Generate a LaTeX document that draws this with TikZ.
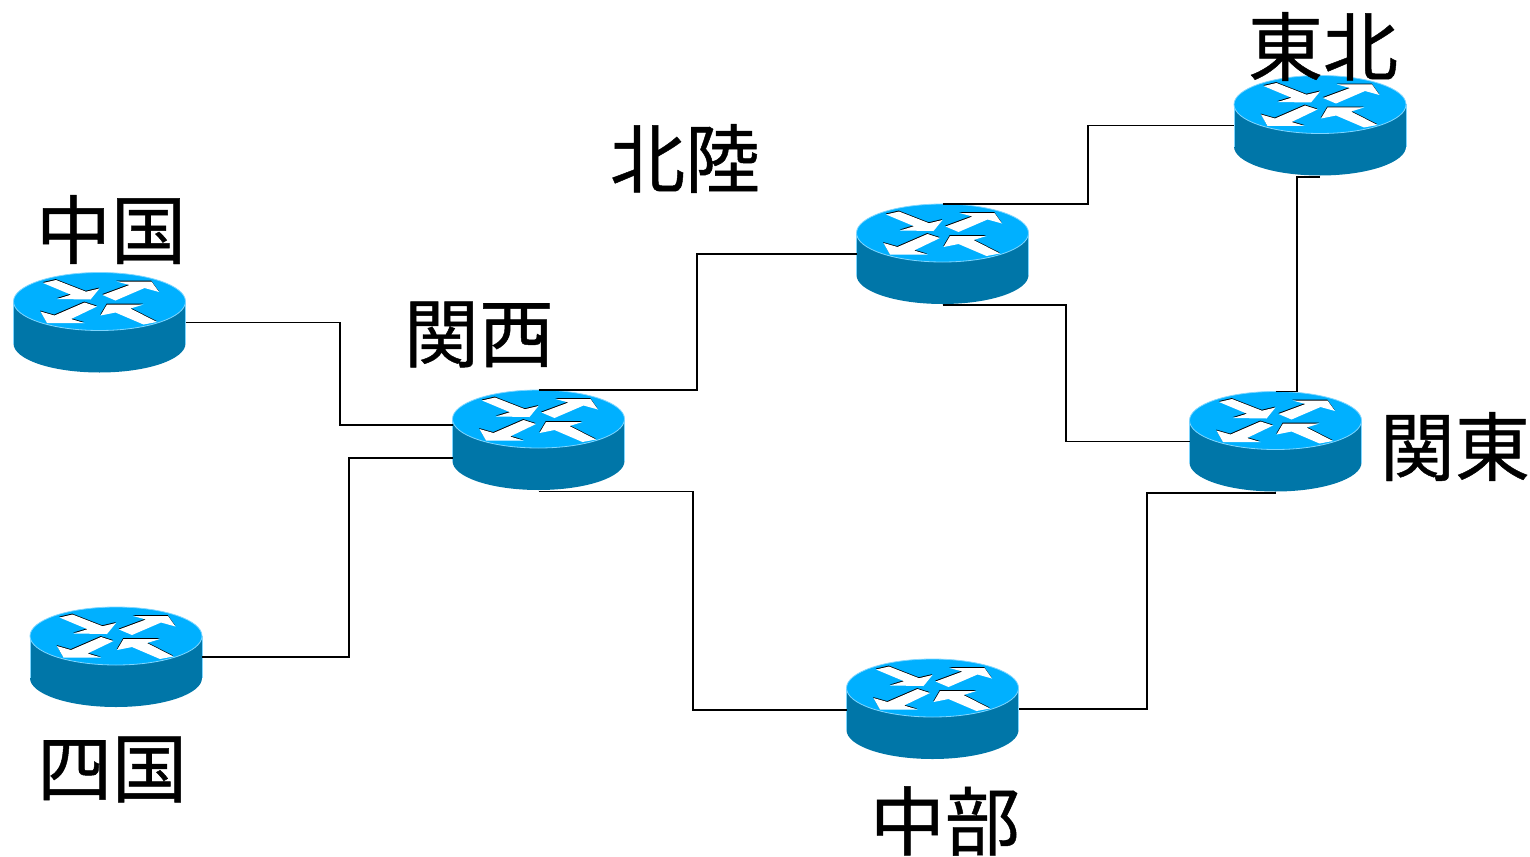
\documentclass[tikz,border=0pt]{standalone}
\usepackage{fontspec}
\newfontfamily\cjk[FakeBold=0.6]{Noto Sans CJK JP}
\definecolor{routertop}{HTML}{00B0FF}
\definecolor{routerside}{HTML}{0076A8}
\definecolor{routeredge}{HTML}{7FD6FF}
\tikzset{
  x=1pt,y=-1pt,
  routerbox/.style={minimum width=172pt,minimum height=100pt,inner sep=0pt,outer sep=0pt},
  link/.style={draw=black,line width=1.5pt},
  place/.style={font=\cjk\fontsize{75}{75}\selectfont,inner sep=0pt,text=black},
  arrowshape/.style={fill=white},
  arrowshade/.style={fill=black},
  router/.pic={
    \fill[routerside] (-86,-21) -- (-86,21) arc[start angle=180,end angle=360,x radius=86,y radius=-29] -- (86,-21) -- cycle;
    \draw[routeredge,line width=0.6pt] (-86,-21) -- (-86,21) (86,-21) -- (86,21);
    \draw[routeredge,line width=0.8pt,fill=routertop] (0,-21) ellipse[x radius=86,y radius=29];
    \begin{scope}[shift={(0,-21)}]
      \foreach \sty/\dx/\dy in {arrowshade/-0.3/-0.9,arrowshape/0/0}{
        \begin{scope}[shift={(\dx,\dy)}]
          \fill[\sty] (-56.5,-18.5) -- (-43.5,-21.5) -- (-13.5,-9.8) -- (0,-13) -- (-9,-2) -- (-42.5,-2.5) -- (-28.5,-6.8) -- cycle;
          \fill[\sty] (3,-6.5) -- (30,-16.5) -- (17,-20) -- (52,-20) -- (59.5,-9.5) -- (45,-13.5) -- (16,-1) -- cycle;
          \fill[\sty] (-15,1) -- (-2.5,5) -- (-28.5,17.5) -- (-15,21.5) -- (-52.5,21.5) -- (-59,10) -- (-45,14) -- cycle;
          \fill[\sty] (1,14) -- (7.5,3) -- (44,3) -- (31,7) -- (57.5,20.5) -- (44,23) -- (16,11) -- cycle;
        \end{scope}
      }
    \end{scope}
  }
}
\begin{document}
\begin{tikzpicture}
\useasboundingbox (0,0) rectangle (1530,856);
\node[routerbox] (chugoku) at (99.5,322.5) {};
\node[routerbox] (shikoku) at (116,657) {};
\node[routerbox] (kansai) at (538.5,440) {};
\node[routerbox] (hokuriku) at (942.5,254) {};
\node[routerbox] (tohoku) at (1320,125.5) {};
\node[routerbox] (kanto) at (1275.5,441.5) {};
\node[routerbox] (chubu) at (932.5,709) {};
\foreach \r in {chugoku,shikoku,kansai,hokuriku,tohoku,kanto,chubu}{\pic at (\r) {router};}
\draw[link] (chugoku.east) -- ++(154.5,0) |- ([yshift=15pt]kansai.west);
\draw[link] (shikoku.east) -- ++(147,0) |- ([yshift=-18pt]kansai.west);
\draw[link] (kansai.north) -- ++(158.5,0) |- (hokuriku.west);
\draw[link] ([yshift=-1.5pt]kansai.south) -- ++(154.5,0) |- ([yshift=-1pt]chubu.west);
\draw[link] (hokuriku.north) -- ++(145.5,0) |- (tohoku.west);
\draw[link] ([yshift=-1.2pt]hokuriku.south) -- ++(123.5,0) |- (kanto.west);
\draw[link] (kanto.north) -- ++(21.5,0) |- ([yshift=-1.5pt]tohoku.south);
\draw[link] ([yshift=-1.5pt]kanto.south) -- ++(-128.5,0) |- (chubu.east);
\node[place] (lchugoku) at (111,229.5) {中国};
\node[place] (lshikoku) at (112,769.5) {四国};
\node[place] (lkansai) at (479,334.5) {関西};
\node[place] (lhokuriku) at (685,158.5) {北陸};
\node[place] (ltohoku) at (1323,46.5) {東北};
\node[place] (lkanto) at (1455,446.5) {関東};
\node[place] (lchubu) at (945,821) {中部};
\end{tikzpicture}
\end{document}
